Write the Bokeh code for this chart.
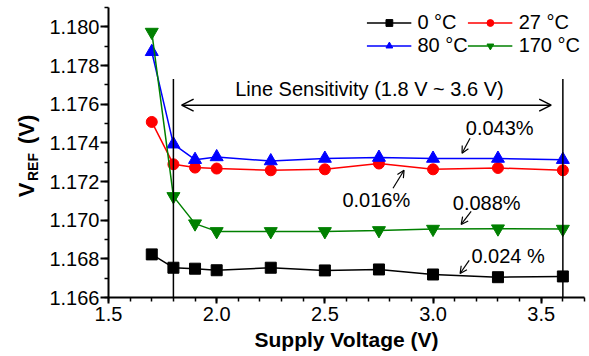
from bokeh.plotting import figure
from bokeh.models import (Legend, LegendItem, Arrow, OpenHead, Label, Range1d,
                          SingleIntervalTicker, PrintfTickFormatter, ColumnDataSource)
from bokeh.core.properties import value
from bokeh.embed import file_html
from bokeh.resources import INLINE
import math

# ---- data ----
supply_v = [1.7, 1.8, 1.9, 2.0, 2.25, 2.5, 2.75, 3.0, 3.3, 3.6]
vref_0c = [1.16823, 1.16754, 1.16749, 1.16741, 1.16754, 1.16740, 1.16745, 1.16719, 1.16705, 1.16709]
vref_27c = [1.17508, 1.17289, 1.17272, 1.17267, 1.17258, 1.17263, 1.17293, 1.17263, 1.17270, 1.17258]
vref_80c = [1.17871, 1.17393, 1.17313, 1.17327, 1.17306, 1.17319, 1.17324, 1.17319, 1.17319, 1.17313]
vref_170c = [1.17973, 1.17123, 1.16982, 1.16942, 1.16942, 1.16942, 1.16947, 1.16954, 1.16956, 1.16954]
series_labels = ["0 °C", "27 °C", "80 °C", "170 °C"]

range_bounds = [1.8, 3.6]          # line-sensitivity range (V)
range_top = 1.1773
range_title = "Line Sensitivity (1.8 V ~ 3.6 V)"

sens_texts = ["0.043%", "0.016%", "0.088%", "0.024 %"]
sens_text_x = [3.308, 2.738, 3.248, 3.347]
sens_text_y = [1.17478, 1.17103, 1.17090, 1.16815]
sens_arrow_x0 = [3.171, 2.815, 3.176, 3.167]
sens_arrow_y0 = [1.17424, 1.17165, 1.17046, 1.16792]
sens_arrow_x1 = [3.134, 2.866, 3.130, 3.125]
sens_arrow_y1 = [1.17346, 1.17258, 1.16978, 1.16724]

FONT = "Liberation Sans"

p = figure(width=589, height=356, output_backend="svg", toolbar_location=None,
           x_range=Range1d(1.5, 3.7), y_range=Range1d(1.166, 1.181),
           min_border_left=108, min_border_right=5, min_border_top=7, min_border_bottom=59)
p.outline_line_color = None
p.xgrid.visible = False
p.ygrid.visible = False
p.background_fill_color = "white"

for ax in (p.xaxis[0], p.yaxis[0]):
    ax.axis_line_width = 2
    ax.major_tick_line_width = 2
    ax.minor_tick_line_width = 1.5
    ax.major_tick_in = 0
    ax.minor_tick_in = 0
    ax.major_label_text_font = FONT
    ax.major_label_text_font_size = "20px"
    ax.major_label_text_color = "black"
    ax.axis_line_color = "black"
    ax.major_tick_line_color = "black"
    ax.minor_tick_line_color = "black"
    ax.axis_label_text_font = FONT
    ax.axis_label_text_font_style = "bold"
    ax.axis_label_text_color = "black"

p.xaxis.ticker = SingleIntervalTicker(interval=0.5, num_minor_ticks=5)
p.xaxis.formatter = PrintfTickFormatter(format="%.1f")
p.xaxis.major_tick_out = 6
p.xaxis.minor_tick_out = 4
p.xaxis.major_label_standoff = 3
p.xaxis.axis_label = "Supply Voltage (V)"
p.xaxis.axis_label_text_font_size = "21px"
p.xaxis.axis_label_standoff = 4

p.yaxis.ticker = SingleIntervalTicker(interval=0.002, num_minor_ticks=2)
p.yaxis.formatter = PrintfTickFormatter(format="%.3f")
p.yaxis.major_tick_out = 8
p.yaxis.minor_tick_out = 4
p.yaxis.major_label_standoff = 1

colors = ["black", "red", "blue", "green"]
markers = ["square", "circle", "triangle", "inverted_triangle"]
sizes = [11, 11, 13, 13]
all_series = [vref_0c, vref_27c, vref_80c, vref_170c]

items = []
for vals, col, mk, sz, lab in zip(all_series, colors, markers, sizes, series_labels):
    src = ColumnDataSource(dict(x=supply_v, y=vals))
    ln = p.line("x", "y", source=src, line_color=col, line_width=1.5)
    sc = p.scatter("x", "y", source=src, marker=mk, size=sz, fill_color=col, line_color=col)
    items.append(LegendItem(label=lab, renderers=[ln, sc]))

# range markers
p.segment(x0=range_bounds, y0=[1.166, 1.166], x1=range_bounds, y1=[range_top, range_top],
          line_color="black", line_width=1.5)

p.add_layout(Arrow(start=OpenHead(size=12, line_width=1.5, line_color="black"),
                   end=OpenHead(size=12, line_width=1.5, line_color="black"),
                   x_start=1.838, y_start=1.17595, x_end=3.546, y_end=1.17595,
                   line_width=1.5, line_color="black"))
p.text(x=[2.706], y=[1.17678], text=[range_title], text_font=value(FONT),
       text_font_size="20px", text_align="center", text_baseline="middle", text_color="black")

p.text(x=sens_text_x, y=sens_text_y, text=sens_texts, text_font=value(FONT),
       text_font_size="20px", text_align="center", text_baseline="middle", text_color="black")
for x0, y0, x1, y1 in zip(sens_arrow_x0, sens_arrow_y0, sens_arrow_x1, sens_arrow_y1):
    p.add_layout(Arrow(end=OpenHead(size=7, line_width=1.2, line_color="black"),
                       x_start=x0, y_start=y0, x_end=x1, y_end=y1,
                       line_width=1.2, line_color="black"))

# y axis title V_REF (V): two labels in the left panel (canvas pixels, not clipped)
p.add_layout(Label(x=25.5, y=155.5, x_units="canvas", y_units="canvas",
                   text="V\u2003\u2002\u2005(V)", angle=math.pi / 2,
                   text_font=FONT, text_font_size="22px", text_font_style="bold",
                   text_align="center", text_baseline="middle", text_color="black"), "left")
p.add_layout(Label(x=32, y=166.5, x_units="canvas", y_units="canvas", text="REF",
                   angle=math.pi / 2, text_font=FONT, text_font_size="14px",
                   text_font_style="bold", text_align="center",
                   text_baseline="middle", text_color="black"), "left")

# legend: row-major appearance -> items ordered for column filling
legend_items = [items[0], items[2], items[1], items[3]]
legend = Legend(items=legend_items, ncols=2, location="top_right", margin=4, padding=0,
                spacing=0, glyph_width=45, glyph_height=17, label_height=17,
                label_standoff=6, label_text_font=FONT, label_text_font_size="20px",
                label_text_color="black", background_fill_alpha=0, border_line_alpha=0)
p.add_layout(legend)

open("out.html", "w").write(file_html(p, INLINE))
